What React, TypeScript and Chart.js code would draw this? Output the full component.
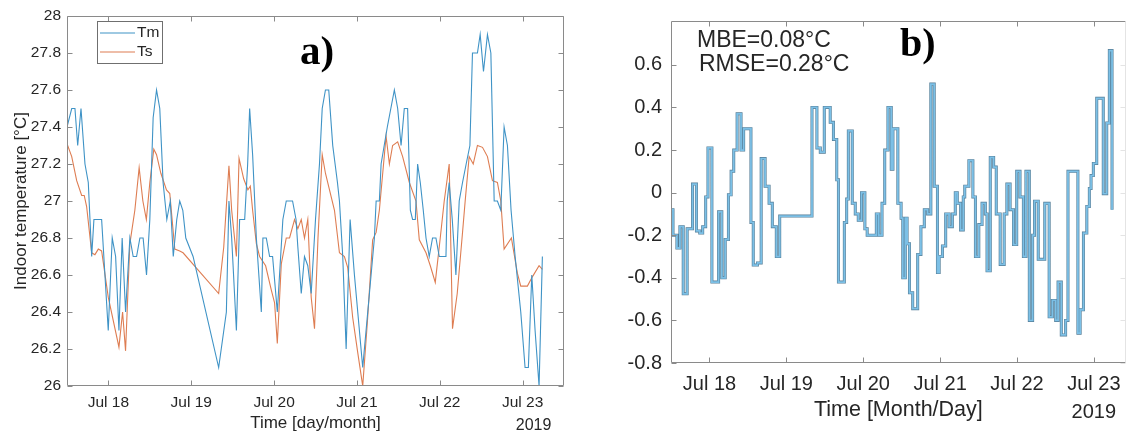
import React, { useEffect, useRef } from 'react';
import { Chart, registerables } from 'chart.js';

Chart.register(...registerables);

const FONT = "'Liberation Sans', Arial, Helvetica, sans-serif";
const SERIF = "'Liberation Serif', 'Times New Roman', serif";
const TEXT = '#262626';
const AXIS = '#8a8a8a';
const TM_COLOR = '#3f93c6';
const TS_COLOR = '#de7d52';
const DIFF_LIGHT = '#7cc0e6';
const DIFF_DARK = '#557d96';

// ---- Panel a) : indoor temperature (x in day of July) ----
const tmTimes = [17.50,17.557,17.596,17.629,17.669,17.717,17.757,17.798,17.825,17.918,17.998,18.046,18.087,18.127,18.166,18.207,18.259,18.299,18.340,18.380,18.419,18.460,18.500,18.540,18.581,18.620,18.660,18.705,18.747,18.783,18.825,18.861,18.898,18.934,19.022,19.331,19.424,19.455,19.488,19.545,19.584,19.645,19.681,19.705,19.741,19.786,19.846,19.865,19.906,19.946,19.982,20.039,20.106,20.147,20.223,20.265,20.287,20.328,20.367,20.407,20.448,20.500,20.548,20.581,20.620,20.660,20.708,20.765,20.789,20.829,20.870,20.918,20.970,21.070,21.151,21.211,21.232,21.271,21.292,21.367,21.452,21.492,21.533,21.572,21.612,21.645,21.672,21.705,21.733,21.765,21.801,21.834,21.873,21.913,21.954,21.994,22.075,22.090,22.114,22.151,22.195,22.235,22.275,22.319,22.364,22.395,22.455,22.488,22.528,22.576,22.617,22.657,22.696,22.737,22.777,22.817,22.861,22.910,22.978,23.030,23.070,23.111,23.151,23.199,23.239];
const tmValues = [27.4,27.5,27.5,27.3,27.5,27.2,27.1,26.7,26.9,26.9,26.3,26.8,26.7,26.3,26.8,26.4,26.8,26.7,26.7,26.8,26.8,26.6,26.9,27.45,27.6,27.5,27.1,26.9,27.0,26.7,26.9,27.0,26.95,26.8,26.7,26.1,26.4,27.0,26.8,26.3,26.9,26.9,27.2,27.5,27.25,26.8,26.4,26.8,26.8,26.7,26.7,26.4,26.9,27.0,27.0,26.9,26.75,26.5,26.7,26.65,26.5,26.9,27.2,27.5,27.6,27.6,27.3,27.1,27.0,26.7,26.2,26.9,26.6,26.1,26.5,26.8,27.0,27.0,27.2,27.4,27.6,27.5,27.3,27.5,27.5,26.95,26.9,26.9,27.2,27.1,26.95,26.8,26.7,26.8,26.8,26.7,26.7,27.0,27.1,26.9,26.6,27.0,27.1,27.2,27.3,27.8,27.8,27.9,27.7,27.9,27.8,27.0,27.0,26.95,27.4,27.3,26.95,26.7,26.4,26.1,26.1,26.6,26.3,26.0,26.7];

const tsTimes = [17.50,17.557,17.617,17.677,17.708,17.737,17.798,17.837,17.878,17.918,17.998,18.127,18.171,18.207,18.259,18.319,18.371,18.416,18.458,18.500,18.548,18.581,18.633,18.701,18.741,18.801,18.861,18.901,19.331,19.392,19.455,19.488,19.545,19.577,19.633,19.684,19.713,19.741,19.786,19.825,19.898,19.966,20.006,20.039,20.087,20.147,20.187,20.247,20.287,20.328,20.367,20.407,20.448,20.488,20.530,20.581,20.620,20.669,20.729,20.789,20.849,20.889,20.949,21.010,21.070,21.127,21.190,21.232,21.271,21.352,21.392,21.431,21.492,21.552,21.633,21.713,21.753,21.834,21.886,21.946,22.006,22.054,22.114,22.154,22.211,22.275,22.307,22.355,22.404,22.455,22.516,22.576,22.636,22.696,22.737,22.777,22.865,22.937,22.978,23.058,23.118,23.199,23.239];
const tsValues = [27.31,27.24,27.11,27.03,27.03,26.97,26.72,26.71,26.74,26.73,26.48,26.21,26.4,26.19,26.77,26.95,27.18,27.0,26.9,27.1,27.28,27.25,27.15,27.06,27.04,26.74,26.73,26.72,26.5,26.75,27.19,26.95,26.7,27.23,27.12,27.06,27.08,26.95,26.77,26.7,26.65,26.52,26.45,26.23,26.66,26.8,26.8,26.9,26.85,26.9,26.8,26.9,26.48,26.31,26.8,27.25,27.15,27.06,26.95,26.72,26.7,26.64,26.37,26.18,26.0,26.35,26.79,26.83,26.95,27.35,27.2,27.3,27.32,27.24,27.1,27.0,26.79,26.72,26.65,26.56,26.8,27.0,27.2,26.31,26.5,26.83,27.0,27.24,27.2,27.3,27.29,27.24,27.11,27.1,27.0,26.74,26.8,26.61,26.54,26.54,26.59,26.65,26.63];

// ---- Panel b) : difference, stairs (value holds until next time) ----
const diffTimes = [17.500,17.526,17.577,17.616,17.659,17.710,17.780,17.831,17.874,17.912,17.951,17.981,18.032,18.119,18.161,18.205,18.247,18.282,18.316,18.360,18.411,18.445,18.540,18.570,18.625,18.673,18.724,18.776,18.818,18.870,18.914,19.334,19.398,19.442,19.494,19.571,19.613,19.656,19.678,19.755,19.785,19.807,19.858,19.897,19.936,19.978,20.022,20.052,20.171,20.202,20.245,20.280,20.322,20.365,20.387,20.451,20.493,20.515,20.548,20.571,20.602,20.644,20.709,20.751,20.795,20.838,20.880,20.924,20.966,20.988,21.031,21.073,21.117,21.160,21.198,21.224,21.267,21.302,21.321,21.375,21.427,21.460,21.504,21.546,21.589,21.611,21.653,21.697,21.731,21.782,21.834,21.869,21.911,21.955,21.997,22.040,22.084,22.117,22.161,22.204,22.229,22.277,22.362,22.419,22.461,22.504,22.535,22.577,22.633,22.664,22.793,22.822,22.865,22.909,22.942,22.964,22.994,23.038,23.123,23.168,23.202,23.237];
const diffValues = [-0.08,-0.20,-0.26,-0.16,-0.475,-0.17,0.04,-0.18,-0.19,-0.16,-0.02,0.21,-0.42,-0.09,-0.40,-0.22,-0.01,0.10,0.20,0.37,0.20,0.30,-0.14,-0.34,-0.33,0.16,0.03,-0.05,-0.16,-0.30,-0.11,0.40,0.21,0.19,0.40,0.33,0.25,0.06,-0.42,-0.14,-0.03,0.29,-0.05,-0.10,-0.13,0.00,-0.17,-0.20,-0.10,-0.20,-0.05,0.20,0.40,0.11,0.30,-0.05,-0.12,-0.40,-0.12,-0.24,-0.47,-0.545,-0.29,-0.16,-0.08,-0.10,0.51,0.03,-0.375,-0.30,-0.25,-0.10,-0.16,-0.10,0.00,-0.05,-0.175,-0.02,0.03,0.15,-0.02,-0.30,-0.15,-0.05,-0.10,-0.367,0.165,0.12,-0.10,-0.337,-0.10,0.04,-0.08,-0.244,0.10,-0.02,-0.30,0.10,-0.60,-0.20,-0.04,-0.313,-0.05,-0.583,-0.506,-0.60,-0.42,-0.668,-0.60,0.10,-0.66,-0.55,-0.19,-0.065,0.02,0.08,0.137,0.443,-0.005,0.327,0.667,-0.08];

// ---- ticks / labels ----
const dayTicks = [18, 19, 20, 21, 22, 23];
const monthName = 'Jul';
const yearLabel = '2019';
const tempTicks = [26, 26.2, 26.4, 26.6, 26.8, 27, 27.2, 27.4, 27.6, 27.8, 28];
const diffTicks = [-0.8, -0.6, -0.4, -0.2, 0, 0.2, 0.4, 0.6];
const seriesNames = ['Tm', 'Ts'];
const statLines = ['MBE=0.08°C', 'RMSE=0.28°C'];

const toPoints = (xs: number[], ys: number[]) => xs.map((x, i) => ({ x, y: ys[i] }));
const fmt = (v: any) => String(Math.round(Number(v) * 10) / 10);

type TextItem = { text: string; x: number | ((c: any) => number); y: number; font: string; align?: CanvasTextAlign };

function makeBoxPlugin(cfg: { tickLen: number; rightColor?: string; texts: TextItem[]; legend?: any }) {
  return {
    id: 'matlabBox',
    afterDatasetsDraw(chart: any) {
      const { ctx, chartArea: a, scales } = chart;
      ctx.save();
      ctx.lineWidth = 1;
      const L = Math.round(a.left) + 0.5, R = Math.round(a.right) - 0.5;
      const T = Math.round(a.top) + 0.5, B = Math.round(a.bottom) - 0.5;
      const n = cfg.tickLen;
      // left, top, bottom edges and their ticks
      ctx.strokeStyle = AXIS;
      ctx.beginPath();
      ctx.moveTo(R, T); ctx.lineTo(L, T); ctx.lineTo(L, B); ctx.lineTo(R, B);
      scales.x.ticks.forEach((t: any) => {
        const x = Math.round(scales.x.getPixelForValue(t.value)) + 0.5;
        ctx.moveTo(x, B); ctx.lineTo(x, B - n);
        ctx.moveTo(x, T); ctx.lineTo(x, T + n);
      });
      scales.y.ticks.forEach((t: any) => {
        const y = Math.round(scales.y.getPixelForValue(t.value)) + 0.5;
        ctx.moveTo(L, y); ctx.lineTo(L + n, y);
      });
      ctx.stroke();
      // right edge and its ticks
      ctx.strokeStyle = cfg.rightColor || AXIS;
      ctx.beginPath();
      ctx.moveTo(R, T); ctx.lineTo(R, B);
      scales.y.ticks.forEach((t: any) => {
        const y = Math.round(scales.y.getPixelForValue(t.value)) + 0.5;
        ctx.moveTo(R, y); ctx.lineTo(R - n, y);
      });
      ctx.stroke();

      if (cfg.legend) {
        const lg = cfg.legend;
        ctx.fillStyle = '#ffffff';
        ctx.fillRect(lg.x, lg.y, lg.w, lg.h);
        ctx.strokeStyle = '#6f6f6f';
        ctx.strokeRect(lg.x + 0.5, lg.y + 0.5, lg.w, lg.h);
        chart.data.datasets.forEach((ds: any, i: number) => {
          const yy = lg.rows[i];
          ctx.strokeStyle = ds.borderColor;
          ctx.lineWidth = 1.1;
          ctx.beginPath();
          ctx.moveTo(lg.lineX0, yy); ctx.lineTo(lg.lineX1, yy);
          ctx.stroke();
          ctx.fillStyle = TEXT;
          ctx.font = lg.font;
          ctx.textAlign = 'left';
          ctx.textBaseline = 'middle';
          ctx.fillText(ds.label, lg.textX, yy);
        });
      }

      cfg.texts.forEach((t) => {
        ctx.font = t.font;
        ctx.fillStyle = t.font.includes('bold') ? '#000000' : TEXT;
        ctx.textAlign = t.align || 'left';
        ctx.textBaseline = 'alphabetic';
        const x = typeof t.x === 'function' ? t.x(chart) : t.x;
        ctx.fillText(t.text, x, t.y);
      });
      ctx.restore();
    },
  };
}

function xScale(min: number, max: number, height: number, tickSize: number, pad: number, title: string, titleSize: number, titlePad: number) {
  return {
    type: 'linear',
    min,
    max,
    afterBuildTicks: (s: any) => { s.ticks = dayTicks.map((v) => ({ value: v })); },
    afterFit: (s: any) => { s.height = height; },
    grid: { display: false, drawTicks: false },
    border: { display: false },
    ticks: {
      callback: (v: any) => `${monthName} ${v}`,
      font: { family: FONT, size: tickSize },
      color: TEXT,
      padding: pad,
      maxRotation: 0,
      autoSkip: false,
    },
    title: { display: true, text: title, font: { family: FONT, size: titleSize }, color: TEXT, padding: { top: 0, bottom: titlePad } },
  };
}

export default function App() {
  const leftRef = useRef<HTMLCanvasElement>(null);
  const rightRef = useRef<HTMLCanvasElement>(null);

  useEffect(() => {
    const left = new Chart(leftRef.current as HTMLCanvasElement, {
      type: 'line',
      data: {
        datasets: [
          { label: seriesNames[0], data: toPoints(tmTimes, tmValues), borderColor: TM_COLOR, borderWidth: 1.1, pointRadius: 0, tension: 0, fill: false },
          { label: seriesNames[1], data: toPoints(tsTimes, tsValues), borderColor: TS_COLOR, borderWidth: 1.1, pointRadius: 0, tension: 0, fill: false },
        ],
      },
      options: {
        animation: false,
        responsive: false,
        devicePixelRatio: 1,
        events: [],
        layout: { padding: { top: 16, right: 16, left: 0, bottom: 0 } },
        plugins: { legend: { display: false }, tooltip: { enabled: false } },
        scales: {
          x: xScale(17.5, 23.5, 46, 15.5, 7, 'Time [day/month]', 17, -2) as any,
          y: {
            type: 'linear',
            min: 26,
            max: 28,
            afterBuildTicks: (s: any) => { s.ticks = tempTicks.map((v) => ({ value: v })); },
            afterFit: (s: any) => { s.width = 67; },
            grid: { display: false, drawTicks: false },
            border: { display: false },
            ticks: { callback: fmt, font: { family: FONT, size: 15.5 }, color: TEXT, padding: 6 },
            title: { display: true, text: 'Indoor temperature [°C]', font: { family: FONT, size: 17 }, color: TEXT, padding: { top: 11, bottom: 0 } },
          },
        },
      } as any,
      plugins: [
        makeBoxPlugin({
          tickLen: 5,
          legend: { x: 97, y: 21, w: 65, h: 42, rows: [33, 52], lineX0: 100, lineX1: 135, textX: 137, font: `15.5px ${FONT}` },
          texts: [
            { text: 'a)', x: 300, y: 64, font: `bold 41px ${SERIF}` },
            { text: yearLabel, x: (c: any) => c.scales.x.getPixelForValue(23) + 11, y: 430, font: `16px ${FONT}`, align: 'center' },
          ],
        }) as any,
      ],
    });

    const right = new Chart(rightRef.current as HTMLCanvasElement, {
      type: 'line',
      data: {
        datasets: [
          { label: 'diff', data: toPoints(diffTimes, diffValues), stepped: 'before', borderColor: DIFF_LIGHT, borderWidth: 1.8, pointRadius: 0, fill: false, order: 0 },
          { label: 'diff-edge', data: toPoints(diffTimes, diffValues), stepped: 'before', borderColor: DIFF_DARK, borderWidth: 3, pointRadius: 0, fill: false, order: 1 },
        ],
      },
      options: {
        animation: false,
        responsive: false,
        devicePixelRatio: 1,
        events: [],
        layout: { padding: { top: 15, right: 0, left: 0, bottom: 0 } },
        plugins: { legend: { display: false }, tooltip: { enabled: false } },
        scales: {
          x: xScale(17.5, 23.415, 69, 20, 9.5, 'Time [Month/Day]', 21.5, 9) as any,
          y: {
            type: 'linear',
            min: -0.8,
            max: 0.806,
            afterBuildTicks: (s: any) => { s.ticks = diffTicks.map((v) => ({ value: v })); },
            afterFit: (s: any) => { s.width = 71; },
            grid: { display: false, drawTicks: false },
            border: { display: false },
            ticks: { callback: fmt, font: { family: FONT, size: 20 }, color: TEXT, padding: 9 },
          },
        },
      } as any,
      plugins: [
        makeBoxPlugin({
          tickLen: 5,
          rightColor: '#e4e4e4',
          texts: [
            { text: statLines[0], x: 97, y: 47, font: `23px ${FONT}` },
            { text: statLines[1], x: 99, y: 71, font: `23px ${FONT}` },
            { text: 'b)', x: 300, y: 56, font: `bold 40px ${SERIF}` },
            { text: yearLabel, x: (c: any) => c.scales.x.getPixelForValue(23), y: 418, font: `20px ${FONT}`, align: 'center' },
          ],
        }) as any,
      ],
    });

    return () => {
      left.destroy();
      right.destroy();
    };
  }, []);

  return (
    <div style={{ position: 'absolute', left: 0, top: 0, width: 1130, height: 432, background: '#ffffff', overflow: 'hidden' }}>
      <canvas ref={leftRef} width={580} height={432} style={{ position: 'absolute', left: 0, top: 0, width: 580, height: 432 }} />
      <canvas ref={rightRef} width={530} height={432} style={{ position: 'absolute', left: 600, top: 0, width: 530, height: 432 }} />
    </div>
  );
}
